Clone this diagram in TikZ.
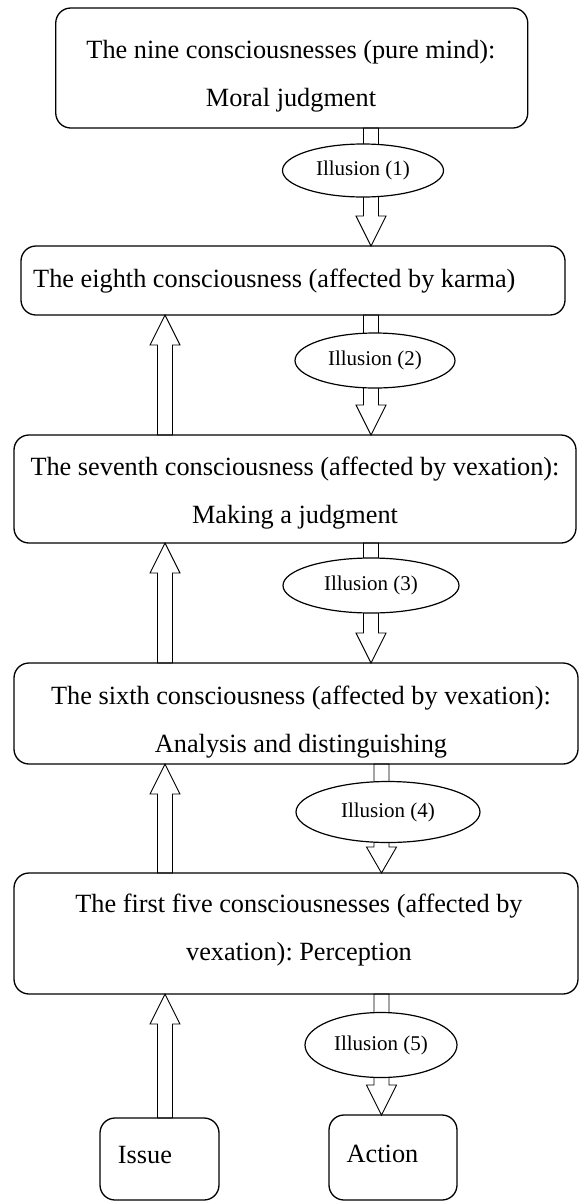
\documentclass[tikz,border=0pt]{standalone}
\usepackage{fontspec}
\setmainfont{Liberation Serif}
\frenchspacing
\usetikzlibrary{calc,shapes.geometric,backgrounds}

\tikzset{
  cbox/.style={draw,line width=1.3pt,rounded corners=15pt,inner sep=0pt,outer sep=0pt},
  ctext/.style={inner sep=0pt,align=center,font=\fontsize{26.3}{48}\selectfont},
  illu/.style={draw,ellipse,line width=1.2pt,fill=white,inner sep=0pt,font=\fontsize{21}{25}\selectfont},
  fatarrow/.style={draw,line width=0.9pt,fill=white,to path={
    let \p1=(\tikztostart), \p2=(\tikztotarget), \n1={#1*sign(\y2-\y1)} in
    (\x1-7.5pt,\y1) -- (\x1-7.5pt,\y2-\n1) -- (\x1-15pt,\y2-\n1) -- (\x1,\y2)
    -- (\x1+15pt,\y2-\n1) -- (\x1+7.5pt,\y2-\n1) -- (\x1+7.5pt,\y1) -- cycle}},
  fatarrow/.default=30pt
}

\begin{document}
\begin{tikzpicture}[x=1pt,y=-1pt]
  \useasboundingbox (0,0) rectangle (580,1203);
  
  % columns of the arrows
  \coordinate (dcol) at (371,0);
  \coordinate (dcolb) at (381.5,0);
  \coordinate (ucol) at (165,0);
  
  % boxes, top to bottom
  \node[cbox,minimum width=472pt,minimum height=120pt] (nine) at (291.75,68) {};
  \node[cbox,minimum width=544pt,minimum height=69pt] (eighth) at (293,280.5) {};
  \node[cbox,minimum width=562pt,minimum height=108pt] (seventh) at (295,489) {};
  \node[cbox,minimum width=564pt,minimum height=101pt] (sixth) at (296,713.5) {};
  \node[cbox,minimum width=564pt,minimum height=121pt] (five) at (296,933.5) {};
  \node[cbox,minimum width=119pt,minimum height=82pt] (issue) at (159.5,1159) {};
  \node[cbox,minimum width=128pt,minimum height=85pt] (action) at (393,1157.5) {};
  
  % texts of the boxes
  \node[ctext] (ninetxt) at (291,72.4) {\strut The nine consciousnesses (pure mind):\\\strut Moral judgment};
  \node[ctext,anchor=base west] (eighthtxt) at (33,287) {The eighth consciousness (affected by karma)};
  \node[ctext] (seventhtxt) at (295,489.4) {\strut The seventh consciousness (affected by vexation):\\\strut Making a judgment};
  \node[ctext] (sixthtxt) at (301,718.4) {\strut The sixth consciousness (affected by vexation):\\\strut Analysis and distinguishing};
  \node[ctext] (fivetxt) at (299,926.4) {\strut The first five consciousnesses (affected by\\\strut vexation): Perception};
  \node[ctext,anchor=base] (issuetxt) at (145,1163) {Issue};
  \node[ctext,anchor=base] (actiontxt) at (382.5,1162) {Action};
  
  % illusions
  \node[illu,minimum width=161pt,minimum height=53pt] (ill1) at (363,170.5) {Illusion (1)};
  \node[illu,minimum width=160pt,minimum height=55pt] (ill2) at (375,360.5) {Illusion (2)};
  \node[illu,minimum width=176pt,minimum height=55pt] (ill3) at (371,585.5) {Illusion (3)};
  \node[illu,minimum width=184pt,minimum height=61pt] (ill4) at (388,812) {Illusion (4)};
  \node[illu,minimum width=152pt,minimum height=65pt] (ill5) at (381,1045) {Illusion (5)};
  
  \begin{scope}[on background layer]
    \draw[fatarrow] (nine.south -| dcol) to (eighth.north -| dcol); % down
    \draw[fatarrow] (eighth.south -| dcol) to (seventh.north -| dcol);
    \draw[fatarrow] (seventh.south -| dcol) to (sixth.north -| dcol);
    \draw[fatarrow=26pt] (sixth.south -| dcolb) to (five.north -| dcolb);
    \draw[fatarrow] (five.south -| dcolb) to (action.north -| dcolb);
    
    \draw[fatarrow] (seventh.north -| ucol) to (eighth.south -| ucol); % up
    \draw[fatarrow] (sixth.north -| ucol) to (seventh.south -| ucol);
    \draw[fatarrow] (five.north -| ucol) to (sixth.south -| ucol);
    \draw[fatarrow] (issue.north -| ucol) to (five.south -| ucol);
  \end{scope}
  
\end{tikzpicture}
\end{document}
